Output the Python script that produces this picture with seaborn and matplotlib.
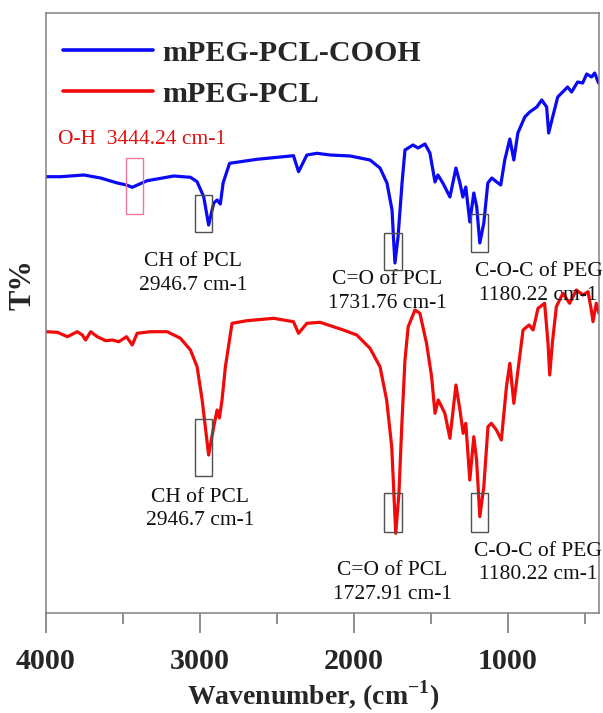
import matplotlib
matplotlib.use("Agg")
import matplotlib.pyplot as plt
from matplotlib.patches import Rectangle
import seaborn as sns
import pandas as pd

# ---------------- data ----------------
series_names = ["mPEG-PCL-COOH", "mPEG-PCL"]

wn_cooh = [4000, 3903, 3752, 3644, 3535, 3475, 3438, 3341, 3168, 3060, 3017, 2974,
           2942, 2909, 2887, 2866, 2848, 2806, 2628, 2391, 2358, 2304, 2239, 2153,
           2023, 1894, 1829, 1784, 1751, 1742, 1732, 1712, 1686, 1667, 1615, 1583,
           1537, 1505, 1472, 1453, 1421, 1375, 1336, 1310, 1291, 1272, 1246, 1220,
           1201, 1181, 1155, 1129, 1103, 1071, 1045, 1019, 986, 960, 934, 889, 857,
           811, 779, 747, 734, 708, 675, 643, 611, 585, 546, 513, 487, 455, 435, 410]
t_cooh = [435.8, 435.8, 437.5, 434.5, 429.5, 427.5, 425.2, 431.8, 436.5, 435.2, 430.8, 415.8,
          387.5, 409.5, 412.5, 408.5, 429.5, 449.2, 453.2, 456.8, 440.8, 457.5, 459.2, 457.5,
          456.5, 452.5, 444.5, 429.5, 402.5, 375.8, 349.5, 375.5, 429.5, 462.5, 467.5, 464.5,
          468.5, 459.5, 430.5, 437.5, 429.5, 415.5, 444.5, 429.5, 415.5, 425.5, 390.5, 419.5,
          405.5, 369.5, 389.5, 429.5, 434.5, 430.5, 427.5, 452.5, 473.5, 452.5, 479.5, 495.5, 500.5,
          505.5, 512.5, 505.5, 479.5, 495.5, 515.5, 520.5, 525.5, 520.5, 530.5, 529.5, 538.5, 535.5,
          539.5, 529.5]

wn_pcl = [4000, 3924, 3859, 3795, 3762, 3741, 3708, 3665, 3611, 3568, 3525, 3475, 3438,
          3406, 3320, 3211, 3125, 3060, 3017, 2984, 2942, 2909, 2887, 2872, 2855, 2833,
          2790, 2693, 2520, 2391, 2358, 2304, 2218, 2132, 2067, 1980, 1894, 1829, 1786,
          1753, 1727, 1706, 1688, 1667, 1646, 1602, 1570, 1527, 1494, 1472, 1451, 1429,
          1408, 1375, 1336, 1310, 1289, 1272, 1246, 1220, 1202, 1181, 1155, 1128, 1106,
          1073, 1041, 1008, 986, 960, 933, 900, 861, 835, 803, 760, 738, 727, 710, 684,
          641, 598, 554, 511, 478, 457, 446, 425, 407]
t_pcl = [280.8, 280.2, 275.8, 280.8, 277.5, 272.5, 280.8, 275.8, 271.8, 272.5, 270.8, 275.8, 267.5,
         279.2, 280.8, 280.8, 274.2, 262.5, 245.8, 212.5, 157.5, 185.8, 202.5, 194.5, 212.5, 245.8,
         289.2, 291.8, 294.2, 290.8, 279.2, 289.2, 290.2, 285.8, 282.5, 277.5, 264.2, 245.8, 212.5,
         165.8, 79.2, 119.5, 185.8, 252.5, 285.8, 302.5, 299.2, 269.2, 235.8, 199.2, 212.5, 205.8,
         199.2, 174.2, 227.5, 202.5, 179.2, 189.2, 132.5, 175.8, 152.5, 95.8, 125.8, 185.8, 189.2,
         182.5, 172.5, 225.8, 249.2, 209.2, 242.5, 282.5, 287.5, 282.5, 304.2, 309.2, 269.2, 237.5, 269.2, 305.8,
         319.2, 309.2, 322.5, 317.5, 320.8, 302.5, 290.8, 309.2, 299.2]

x_ticks = [4000, 3000, 2000, 1000]
x_minor = [3500, 2500, 1500, 500]

df = pd.concat([
    pd.DataFrame({"wavenumber": wn_cooh, "T": t_cooh, "sample": series_names[0]}),
    pd.DataFrame({"wavenumber": wn_pcl, "T": t_pcl, "sample": series_names[1]}),
], ignore_index=True)

# ---------------- style ----------------
sns.set_style("white")
plt.rcParams["font.family"] = ["Liberation Serif", "DejaVu Serif"]
plt.rcParams["mathtext.fontset"] = "custom"
plt.rcParams["mathtext.rm"] = "Liberation Serif"
plt.rcParams["mathtext.bf"] = "Liberation Serif:bold"

fig = plt.figure(figsize=(6.03, 7.13), dpi=100)
ax = fig.add_axes([45.7 / 603, 1 - 612.5 / 713, (599 - 45.7) / 603, (612.5 - 13.3) / 713])

sns.lineplot(data=df, x="wavenumber", y="T", hue="sample", hue_order=series_names,
             palette={series_names[0]: "#0a0af5", series_names[1]: "#f00a0a"},
             estimator=None, linewidth=2.3, ax=ax)

ax.set_xlim(4000, 407)
ax.set_ylim(0, 599.2)
ax.set_yticks([])
ax.set_xticks(x_ticks)
ax.set_xticks(x_minor, minor=True)
ax.set_xticklabels([str(t) for t in x_ticks], fontsize=21.6, fontweight="bold")
ax.tick_params(axis="x", which="major", direction="out", length=14.5, width=1.1,
               color="#707070", pad=11, bottom=True)
ax.tick_params(axis="x", which="minor", direction="out", length=8, width=1.1,
               color="#707070", bottom=True)
for s in ax.spines.values():
    s.set_visible(True)
    s.set_color("#808080")
    s.set_linewidth(1.1)

ax.set_xlabel(r"Wavenumber, (cm$^{\mathbf{-1}}$)", fontsize=20, fontweight="bold")
ax.xaxis.set_label_coords(0.484, -0.111)
ax.set_ylabel("T%", fontsize=22, fontweight="bold")
ax.yaxis.set_label_coords(-0.014, 0.547)

leg = ax.legend(loc="upper left", bbox_to_anchor=(0.0313, 0.956), frameon=False,
                prop={"weight": "bold", "size": 21.6, "family": "Liberation Serif"},
                handlelength=3.0, handletextpad=0.3, labelspacing=0.47,
                borderpad=0, borderaxespad=0)
for h in leg.get_lines():
    h.set_linewidth(2.6)

# ---------------- annotations ----------------
box_kw = dict(fill=False, edgecolor="#505050", linewidth=1.0, zorder=5)
boxes = [(3030, 2918, 380.2, 417.5), (1801, 1688, 342.5, 379.8), (1240, 1126, 360.8, 398.5),
         (3030, 2918, 136.8, 193.2), (1801, 1688, 80.8, 119.2), (1240, 1126, 80.8, 119.2)]
for w1, w2, y1, y2 in boxes:
    ax.add_patch(Rectangle((w2, y1), w1 - w2, y2 - y1, **box_kw))
ax.add_patch(Rectangle((3368, 398.5), 3479 - 3368, 454.5 - 398.5, fill=False,
                       edgecolor="#e8799a", linewidth=1.0, zorder=5))

txt_kw = dict(fontsize=15.5, ha="center", va="center", linespacing=1.3, color="#111111")
ax.text(3375, 472.5, "O-H  3444.24 cm-1", fontsize=15.5, ha="center", va="center", color="#e01010")
ax.text(3041, 339, "CH of PCL\n2946.7 cm-1", **txt_kw)
ax.text(1781, 321, "C=O of PCL\n1731.76 cm-1", **txt_kw)
ax.text(800, 329, "C-O-C of PEG\n1180.22 cm-1", clip_on=False, **txt_kw)
ax.text(2995, 103.5, "CH of PCL\n2946.7 cm-1", **txt_kw)
ax.text(1751, 30, "C=O of PCL\n1727.91 cm-1", **txt_kw)
ax.text(803, 49.5, "C-O-C of PEG\n1180.22 cm-1", **txt_kw)

fig.savefig("out.png", dpi=100)
